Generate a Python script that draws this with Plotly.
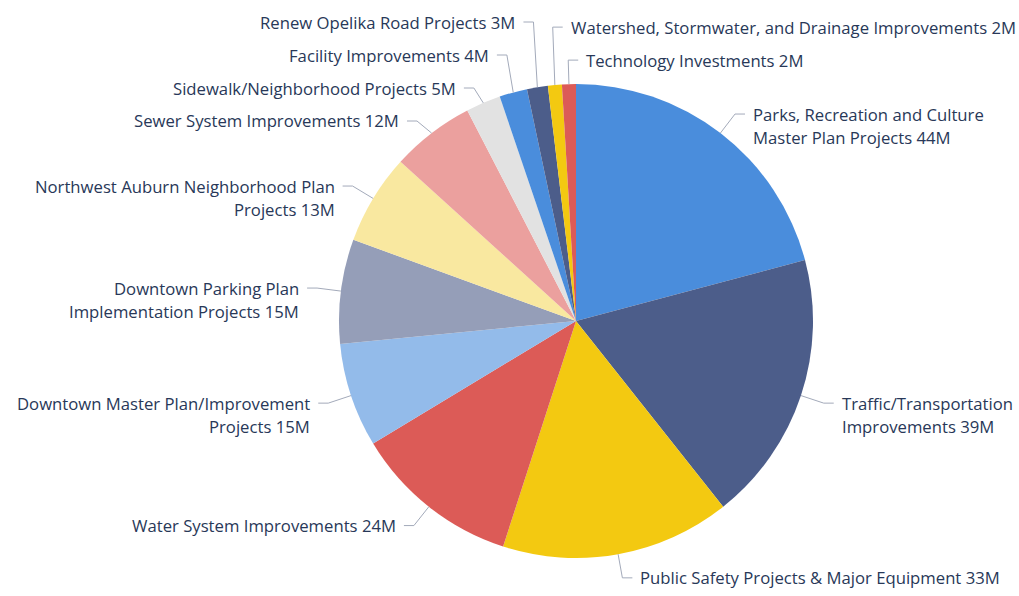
import math
import plotly.graph_objects as go

# capital projects, in millions (clockwise from 12 o'clock)
categories = [
    "Parks, Recreation and Culture<br>Master Plan Projects",
    "Traffic/Transportation<br>Improvements",
    "Public Safety Projects & Major Equipment",
    "Water System Improvements",
    "Downtown Master Plan/Improvement<br>Projects",
    "Downtown Parking Plan<br>Implementation Projects",
    "Northwest Auburn Neighborhood Plan<br>Projects",
    "Sewer System Improvements",
    "Sidewalk/Neighborhood Projects",
    "Facility Improvements",
    "Renew Opelika Road Projects",
    "Watershed, Stormwater, and Drainage Improvements",
    "Technology Investments",
]
values = [44, 39, 33, 24, 15, 15, 13, 12, 5, 4, 3, 2, 2]
colors = [
    "#4A8DDC", "#4C5D8A", "#F3C911", "#DC5B57", "#93BBEA", "#959EB8", "#F9E8A0",
    "#EBA09E", "#E2E2E2", "#4A8DDC", "#4C5D8A", "#F3C911", "#DC5B57",
]

W, H = 1019, 596
CX, CY, R = 576, 321, 237
EXT = 24      # radial length of leader
HOOK = 10     # horizontal part of leader
PAD = 6
LH = 23
GAP = 10
TOP = 22      # highest label line centre
TEXT = "#283858"
LEADER = "#A3AABA"


def px(x):
    return x / W


def py(y):
    return 1 - y / H


fig = go.Figure(go.Pie(
    labels=[c.replace("<br>", " ") for c in categories],
    values=values,
    marker=dict(colors=colors, line=dict(width=0)),
    sort=False, direction="clockwise", rotation=0,
    textinfo="none", hoverinfo="label+value",
    domain=dict(x=[px(CX - R), px(CX + R)], y=[py(CY + R), py(CY - R)]),
))

# label layout
total = sum(values)
labels = []
cum = 0
for name, v in zip(categories, values):
    mid = (cum + v / 2) / total * 2 * math.pi
    cum += v
    right = math.sin(mid) > 0 or mid > 2 * math.pi - math.radians(7)
    labels.append(dict(
        lines=f"{name} {v}M".split("<br>"),
        mid=mid, right=right,
        ax=CX + R * math.sin(mid), ay=CY - R * math.cos(mid),
        ex=CX + (R + EXT) * math.sin(mid), y=CY - (R + EXT) * math.cos(mid),
    ))

for side in (True, False):
    group = [l for l in labels if l["right"] == side]
    if side:
        group.sort(key=lambda l: l["mid"] if l["mid"] < math.pi else l["mid"] - 2 * math.pi)
    else:
        group.sort(key=lambda l: -l["mid"])
    gaps = [len(l["lines"]) * LH + GAP for l in group]
    # push overlapping labels up, then back down below the top edge
    for i in range(len(group) - 2, -1, -1):
        group[i]["y"] = min(group[i]["y"], group[i + 1]["y"] - gaps[i])
    group[0]["y"] = max(group[0]["y"], TOP)
    for i in range(len(group) - 1):
        group[i + 1]["y"] = max(group[i + 1]["y"], group[i]["y"] + gaps[i])

shapes = []
annotations = []
for l in labels:
    d = 1 if l["right"] else -1
    hx = l["ex"] + d * HOOK
    shapes.append(dict(
        type="path", xref="paper", yref="paper",
        path=f"M {px(l['ax'])},{py(l['ay'])} L {px(l['ex'])},{py(l['y'])} L {px(hx)},{py(l['y'])}",
        line=dict(color=LEADER, width=1),
    ))
    for k, line in enumerate(l["lines"]):
        annotations.append(dict(
            x=px(hx + d * PAD), y=py(l["y"] + k * LH), xref="paper", yref="paper",
            text=line, showarrow=False,
            xanchor="left" if l["right"] else "right", yanchor="middle",
            font=dict(size=16.7, color=TEXT, family="Segoe UI, Open Sans, sans-serif"),
        ))

fig.update_layout(
    width=W, height=H,
    margin=dict(l=0, r=0, t=0, b=0),
    showlegend=False,
    shapes=shapes, annotations=annotations,
    paper_bgcolor="white", plot_bgcolor="white",
)
fig.write_html(
    "out.html",
    config={"displayModeBar": False},
    post_script="document.body.style.margin = '0';",
)
